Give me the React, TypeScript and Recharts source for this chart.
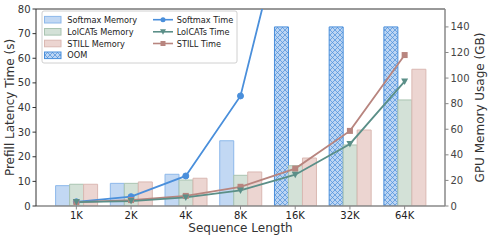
import * as React from "react";
import {
  Bar,
  Cell,
  ComposedChart,
  Line,
  ReferenceLine,
  XAxis,
  YAxis,
} from "recharts";

const seqLengths = ["1K", "2K", "4K", "8K", "16K", "32K", "64K"];

// GPU memory (GB), right axis. Softmax runs out of memory from 16K on.
const softmaxMemory = [15.9, 17.7, 24.8, 51, 140, 140, 140];
const softmaxOom = [false, false, false, false, true, true, true];
const lolcatsMemory = [17, 17.7, 20.3, 24, 31.5, 47.7, 82.9];
const stillMemory = [17, 18.8, 21.7, 26.6, 37.5, 59.4, 106.9];

// prefill latency (s), left axis
const softmaxTime = [1.7, 3.8, 12.2, 44.7, 134, null, null];
const lolcatsTime = [1.6, 2.0, 3.5, 6.3, 12.7, 25.2, 50.6];
const stillTime = [1.6, 2.4, 4.1, 7.8, 15.2, 30.5, 61.3];

const leftTicks = [0, 10, 20, 30, 40, 50, 60, 70, 80];
const rightTicks = [0, 20, 40, 60, 80, 100, 120, 140];

const FONT = "DejaVu Sans";
const BLUE = "#4a8fdb";
const TEAL = "#5b8f88";
const ROSE = "#b8857f";

const data = seqLengths.map((s, i) => ({
  seq: s,
  softmaxMem: softmaxMemory[i],
  lolcatsMem: lolcatsMemory[i],
  stillMem: stillMemory[i],
  softmaxTime: softmaxTime[i],
  lolcatsTime: lolcatsTime[i],
  stillTime: stillTime[i],
}));

const tickStyle = { fontSize: 10, fontFamily: FONT, fill: "#333" };

function CircleDot(props: any) {
  const { cx, cy } = props;
  if (cx == null || cy == null) return null;
  return <circle cx={cx} cy={cy} r={3} fill={BLUE} stroke={BLUE} />;
}

function TriDot(props: any) {
  const { cx, cy } = props;
  if (cx == null || cy == null) return null;
  return (
    <polygon
      points={`${cx - 3.5},${cy - 3} ${cx + 3.5},${cy - 3} ${cx},${cy + 3.5}`}
      fill={TEAL}
    />
  );
}

function SquareDot(props: any) {
  const { cx, cy } = props;
  if (cx == null || cy == null) return null;
  return <rect x={cx - 3} y={cy - 3} width={6} height={6} fill={ROSE} />;
}

function LegendOverlay() {
  const rows = [19.7, 31.8, 43.5, 55.3];
  const patches = [
    { label: "Softmax Memory", fill: "#c2d8f3", stroke: "#8db8ea" },
    { label: "LolCATs Memory", fill: "#d3e1d7", stroke: "#a9c4b1" },
    { label: "STILL Memory", fill: "#ecd5d1", stroke: "#dab8b2" },
    { label: "OOM", fill: "url(#oomHatch)", stroke: BLUE },
  ];
  const lines = [
    { label: "Softmax Time", color: BLUE, kind: "c" },
    { label: "LolCATs Time", color: TEAL, kind: "t" },
    { label: "STILL Time", color: ROSE, kind: "s" },
  ];
  return (
    <svg
      width={489}
      height={241}
      style={{ position: "absolute", left: 0, top: 0, pointerEvents: "none" }}
    >
      <rect
        x={42}
        y={11}
        width={195}
        height={52}
        rx={2}
        fill="#fff"
        fillOpacity={0.85}
        stroke="#d0d0d0"
      />
      {patches.map((p, i) => (
        <g key={p.label}>
          <rect x={44.5} y={rows[i] - 3.3} width={16.5} height={6.6} fill={p.fill} stroke={p.stroke} />
          <text x={67.3} y={rows[i] + 3} fontSize={8.2} fontFamily={FONT} fill="#222">
            {p.label}
          </text>
        </g>
      ))}
      {lines.map((l, i) => (
        <g key={l.label}>
          <line x1={153} x2={173} y1={rows[i]} y2={rows[i]} stroke={l.color} strokeWidth={1.6} />
          {l.kind === "c" && <circle cx={163} cy={rows[i]} r={2.5} fill={l.color} />}
          {l.kind === "t" && (
            <polygon
              points={`${160},${rows[i] - 2.5} ${166},${rows[i] - 2.5} ${163},${rows[i] + 3}`}
              fill={l.color}
            />
          )}
          {l.kind === "s" && (
            <rect x={160.5} y={rows[i] - 2.5} width={5} height={5} fill={l.color} />
          )}
          <text x={176.7} y={rows[i] + 3} fontSize={8.2} fontFamily={FONT} fill="#222">
            {l.label}
          </text>
        </g>
      ))}
      <text
        transform="translate(14,107.5) rotate(-90)"
        textAnchor="middle"
        fontSize={12}
        fontFamily={FONT}
        fill="#333"
      >
        Prefill Latency Time (s)
      </text>
      <text
        transform="translate(483.5,107.5) rotate(-90)"
        textAnchor="middle"
        fontSize={12}
        fontFamily={FONT}
        fill="#333"
      >
        GPU Memory Usage (GB)
      </text>
      <text x={240.5} y={232} textAnchor="middle" fontSize={12} fontFamily={FONT} fill="#333">
        Sequence Length
      </text>
    </svg>
  );
}

export default function App() {
  return (
    <div style={{ position: "absolute", left: 0, top: 0, width: 489, height: 241, background: "#fff" }}>
      <svg width={0} height={0} style={{ position: "absolute" }}>
        <defs>
          <pattern id="oomHatch" width={5} height={5} patternUnits="userSpaceOnUse">
            <rect width={5} height={5} fill="#bcd5f3" />
            <path d="M0,0 L5,5 M5,0 L0,5" stroke={BLUE} strokeWidth={0.7} />
          </pattern>
        </defs>
      </svg>
      <ComposedChart
        width={489}
        height={241}
        data={data}
        margin={{ top: 9, right: 0, left: 0, bottom: 0 }}
        barGap={0}
        barCategoryGap={6.6}
      >
        <XAxis
          dataKey="seq"
          height={35}
          padding={{ left: 13, right: 13 }}
          tick={{ ...tickStyle, fill: "#222" }}
          tickSize={3.5}
          tickMargin={2}
          stroke="#888"
          axisLine={{ stroke: "#888", strokeWidth: 1.5 }}
        />
        <YAxis
          yAxisId="left"
          width={36}
          domain={[0, 80]}
          ticks={leftTicks}
          allowDataOverflow
          tick={tickStyle}
          tickSize={3.5}
          tickMargin={2}
          stroke="#333"
          interval={0}
        />
        <YAxis
          yAxisId="right"
          orientation="right"
          width={44}
          domain={[0, 154]}
          ticks={rightTicks}
          allowDataOverflow
          tick={{ ...tickStyle, fill: "#444" }}
          tickSize={3.5}
          tickMargin={2}
          stroke="#888"
          axisLine={{ stroke: "#888", strokeWidth: 1.5 }}
          interval={0}
        />
        <ReferenceLine yAxisId="left" y={80} stroke="#333" strokeWidth={1} />
        <Bar yAxisId="right" dataKey="softmaxMem" isAnimationActive={false} strokeWidth={1}>
          {data.map((d, i) =>
            softmaxOom[i] ? (
              <Cell key={i} fill="url(#oomHatch)" stroke={BLUE} />
            ) : (
              <Cell key={i} fill="#c2d8f3" stroke="#8db8ea" />
            )
          )}
        </Bar>
        <Bar
          yAxisId="right"
          dataKey="lolcatsMem"
          fill="#d3e1d7"
          stroke="#a9c4b1"
          isAnimationActive={false}
        />
        <Bar
          yAxisId="right"
          dataKey="stillMem"
          fill="#ecd5d1"
          stroke="#dab8b2"
          isAnimationActive={false}
        />
        <Line
          yAxisId="left"
          dataKey="softmaxTime"
          stroke={BLUE}
          strokeWidth={1.8}
          dot={<CircleDot />}
          activeDot={false}
          connectNulls={false}
          isAnimationActive={false}
        />
        <Line
          yAxisId="left"
          dataKey="stillTime"
          stroke={ROSE}
          strokeWidth={1.8}
          dot={<SquareDot />}
          activeDot={false}
          isAnimationActive={false}
        />
        <Line
          yAxisId="left"
          dataKey="lolcatsTime"
          stroke={TEAL}
          strokeWidth={1.8}
          dot={<TriDot />}
          activeDot={false}
          isAnimationActive={false}
        />
      </ComposedChart>
      <LegendOverlay />
    </div>
  );
}
